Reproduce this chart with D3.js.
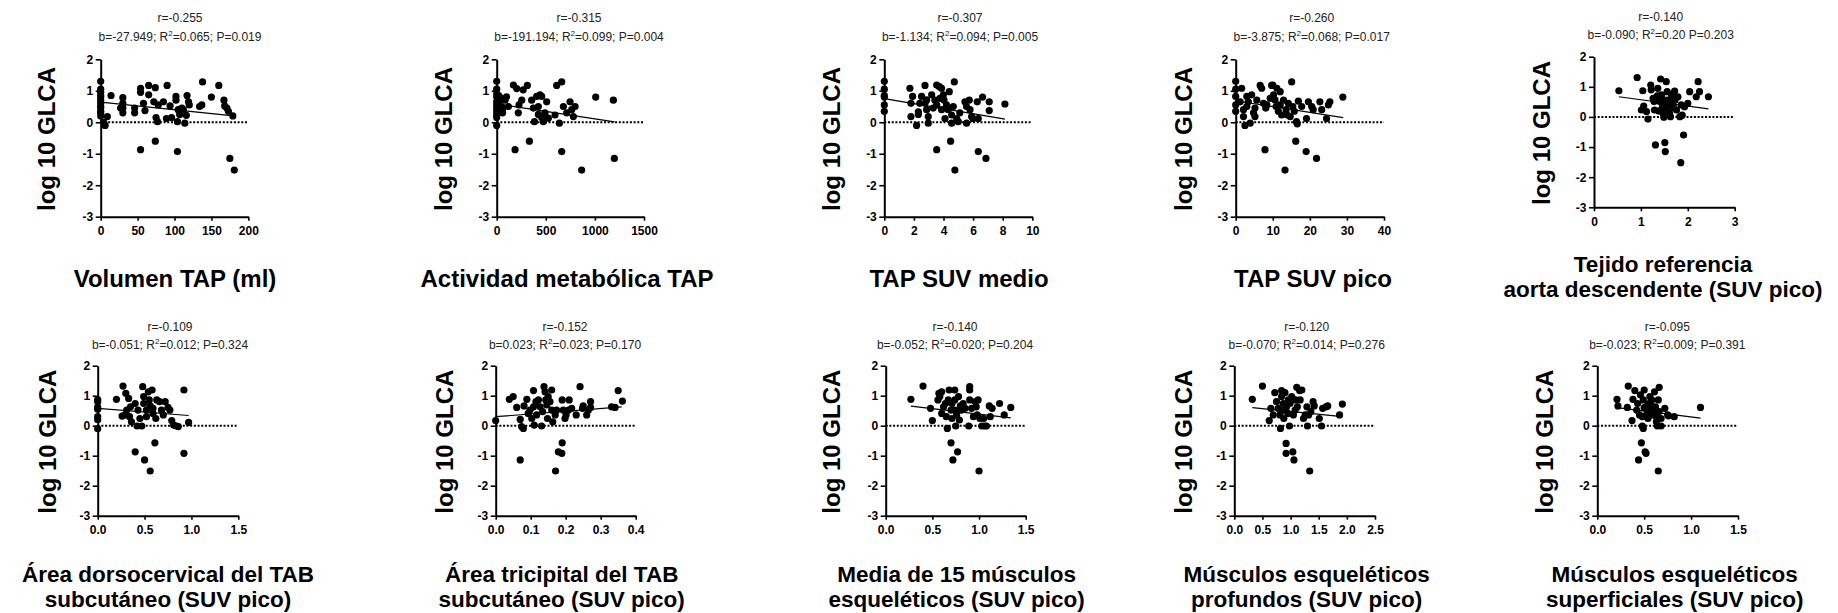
<!DOCTYPE html>
<html>
<head>
<meta charset="utf-8">
<script src="https://cdn.jsdelivr.net/npm/d3@7/dist/d3.min.js"></script>
<style>
  html, body { margin: 0; padding: 0; background: #fff; }
  svg { display: block; }
  text { font-family: "Liberation Sans", Arial, Helvetica, sans-serif; }
</style>
</head>
<body>
<svg id="chart" width="1838" height="613"></svg>
<script>
// ---------------- DATA ----------------
const yLabel = "log 10 GLCA";
const yTickValues = [2, 1, 0, -1, -2, -3];

const xTitles = [
  ["Volumen TAP (ml)"],
  ["Actividad metabólica TAP"],
  ["TAP SUV medio"],
  ["TAP SUV pico"],
  ["Tejido referencia", "aorta descendente (SUV pico)"],
  ["Área dorsocervical del TAB", "subcutáneo (SUV pico)"],
  ["Área tricipital del TAB", "subcutáneo (SUV pico)"],
  ["Media de 15 músculos", "esqueléticos (SUV pico)"],
  ["Músculos esqueléticos", "profundos (SUV pico)"],
  ["Músculos esqueléticos", "superficiales (SUV pico)"]
];

const statR = ["r=-0.255", "r=-0.315", "r=-0.307", "r=-0.260", "r=-0.140",
               "r=-0.109", "r=-0.152", "r=-0.140", "r=-0.120", "r=-0.095"];
const statBefore = ["b=-27.949; R", "b=-191.194; R", "b=-1.134; R", "b=-3.875; R", "b=-0.090; R",
                    "b=-0.051; R", "b=0.023; R", "b=-0.052; R", "b=-0.070; R", "b=-0.023; R"];
const statAfter = ["=0.065; P=0.019", "=0.099; P=0.004", "=0.094; P=0.005", "=0.068; P=0.017", "=0.20 P=0.203",
                   "=0.012; P=0.324", "=0.023; P=0.170", "=0.020; P=0.204", "=0.014; P=0.276", "=0.009; P=0.391"];

const xTickValues = [
  [0, 50, 100, 150, 200],
  [0, 500, 1000, 1500],
  [0, 2, 4, 6, 8, 10],
  [0, 10, 20, 30, 40],
  [0, 1, 2, 3],
  [0, 0.5, 1.0, 1.5],
  [0, 0.1, 0.2, 0.3, 0.4],
  [0, 0.5, 1.0, 1.5],
  [0, 0.5, 1.0, 1.5, 2.0, 2.5],
  [0, 0.5, 1.0, 1.5]
];
const xTickDecimals = [0, 0, 0, 0, 0, 1, 1, 1, 1, 1];

// Panel 1: Volumen TAP (ml)
const volX = [0,0,0,0,0,0,0,0,0,0,0,0, 4,6,9,14, 27,30,30,30,30, 46,46, 54,54,54, 58,60, 65,65, 72,74,74,75,77,78, 85, 89,90, 94,96, 102,102,104,104,105,107,110,112,114, 116,117,119,120, 134,137,138, 150, 160, 167,168,171,173, 175,179,181];
const volY = [1.3,1.05,0.95,0.85,0.8,0.7,0.6,0.5,0.45,0.35,0.3,0.2, 0.0,-0.1,0.18,0.85, 0.45,0.78,0.6,0.45,0.3, 0.45,0.3, 1.08,0.95,-0.87, 0.6,0.37, 1.17,0.87, 0.65,1.1,-0.6,0.15,0.02,0.55, 0.65, 0.12,1.17, 0.52,0.15, 0.82,0.7,0.02,-0.93,0.4,0.25,0.45,0.4,-0.03, 0.22,0.85,0.65,0.55, 0.5,0.55,1.28, 0.8, 1.17, 0.7,0.52,0.45,0.35, -1.15,0.2,-1.52];

// Panel 2: Actividad metabólica TAP
const actX = [0,0,0,0,0,0,0,0,0,0,0, 20,30,40,50,60,60, 85,100,119, 170,187,204,220,227, 255,270,312,333, 356,373,384, 407,424,424,441,458,458,475,492,509,526, 594,611,638,662,662, 679,713,747,764,781,798, 865, 1008, 1188,1198];
const actY = [1.3,1.05,0.9,0.8,0.65,0.55,0.45,0.35,0.25,0.15,-0.1, 0.85,0.8,0.7,0.5,0.4,0.3, 0.7,0.81,0.5, 1.18,-0.87,1.07,0.3,0.55, 0.7,1.03,1.17,-0.6, 0.7,0.45,0.02, 0.82,0.5,0.25,0.87,0.82,0.15,0.02,0.3,0.65,0.13, 0.23,1.17,-0.03,1.28,-0.93, 0.5,0.3,0.65,0.4,0.18,0.5, -1.52, 0.8, 0.7,-1.15];

// Panel 3: TAP SUV medio
const medX = [0,0,0,0,0,0, 1.73,1.8,1.8,1.91, 2.18,2.3,2.3,2.4,2.52, 2.75,2.75,2.86,2.97,2.97,2.86, 3.2,3.3,3.42,3.54,3.54,3.54, 3.72,3.76,3.87,3.87,3.99,4.03,4.1,4.2,4.32,4.39, 4.48,4.55,4.55,4.66,4.73,4.77,4.89,5.0,5.1, 5.45,5.56,5.56,5.74,5.79,5.9,6.0, 6.28,6.35,6.35,6.64,6.87,7.09,7.09, 8.15];
const medY = [1.3,1.05,0.85,0.8,0.55,0.35, 1.08,0.6,0.18,0.82, -0.1,0.33,0.25,0.6,0.82, 1.17,0.6,0.71,0.18,-0.03,0.4, 0.87,0.45,0.7,-0.87,1.18,0.55, 1.13,0.76,1.08,0.4,0.87,0.71,0.12,0.55,0.4,0.97, -0.6,0.23,-0.03,0.5,1.28,-1.52,0.12,0.02,0.3, 0.65,0.5,-0.03,0.7,0.4,0.18,0.12, 0.65,-0.93,0.12,0.8,-1.15,0.65,0.37, 0.58];

// Panel 4: TAP SUV pico
const picX = [0,0,0,0,0, 1.2,1.6,2.1,2.1,2.5,3,3,3.4,3.9,4.3,4.8,5.2,5.2,5.7, 6.6,7,7.5,7.9,8.1,8.4, 9.3,9.7,10,10.2,10.6,10.9,11.1, 11.5,12,12,12.4,12.9,13.3,13.6,13.9,14.2,14.7,15.1,15.4,15.8, 16.2,16.4,16.6,16.9,17.8, 19.1,19,19.6,20.5,20.9,21.8,22.7,23.2,24.5,25,25.4,28.9];
const picY = [1.3,1.05,0.82,0.55,0.35, 0.65,1.08,0.4,0.18,-0.1,0.82,0.5,0.65,-0.03,0.87,0.3,0.45,0.18,0.7, 1.17,1.08,0.6,-0.87,0.45,0.55, 0.76,1.17,1.18,0.87,0.71,0.5,1.08, 0.35,0.97,0.55,0.23,0.7,-1.52,0.4,0.23,0.6,0.18,1.28,0.5,0.35, -0.6,0.02,-0.05,0.67,0.5, 0.12,-0.93,0.65,0.5,0.4,-1.15,0.65,0.4,0.12,0.55,0.65,0.8];

// Panel 5: Tejido referencia aorta descendente
const aorX = [0.53,0.92,1.04,1.01,1.06,1.12,1.15, 1.21,1.22,1.26,1.28,1.29,1.31, 1.36,1.4,1.42,1.44,1.46,1.47,1.49, 1.51,1.52,1.54,1.56,1.56,1.58,1.61,1.63,1.66,1.68,1.72,1.73,1.76, 1.79,1.83,1.85,1.86,1.88,1.91,1.93, 2.0,2.04,2.22,2.25,2.18,2.44, 1.45,1.5,1.6,1.7,1.35,1.55,1.65,1.38];
const aorY = [0.87,1.31,0.87,0.23,0.36,0.18,-0.07, 1.06,0.9,0.62,0.51,0.23,-0.93, 0.95,0.51,1.26,0.73,0.34,0.12,-0.01, -0.85,-1.15,1.17,0.84,0.56,0.34,0.12,0.01,0.62,0.4,0.86,0.56,0.23, 0.67,0.01,-1.52,0.4,0.06,-0.6,0.34, 0.45,0.84,1.17,0.84,0.67,0.67, 0.6,0.45,0.5,0.3,0.7,0.3,0.75,0.2];

// Panel 6: Área dorsocervical
const dorX = [0,0,0,0,0,0,0, 0.2,0.26,0.27,0.29,0.3,0.31,0.33,0.34,0.35,0.36, 0.4,0.42,0.4,0.43,0.45,0.47, 0.48,0.49,0.49,0.5,0.52,0.52, 0.54,0.55,0.56,0.56,0.58,0.59,0.59,0.61,0.62,0.63, 0.66,0.68,0.7,0.72,0.75,0.77, 0.79,0.81,0.84,0.86,0.92,0.92,0.97];
const dorY = [0.87,0.8,0.62,0.55,0.3,0.2,-0.1, 0.88,0.32,1.32,0.36,1.08,0.52,0.91,0.3,0.63,0.13, -0.87,-0.01,0.74,0.52,0.24,-0.01, 1.3,0.97,0.74,-1.14,0.52,0.3, 1.13,0.86,0.66,-1.51,1.19,0.41,0.58,-0.57,0.24,0.86, 0.8,0.52,0.36,0.8,0.61,0.52, 0.17,0.02,-0.01,-0.03,1.19,-0.92,0.11];

// Panel 7: Área tricipital
const triX = [0, 0.039,0.05,0.06,0.07,0.07,0.074,0.079,0.081,0.089, 0.093,0.098,0.103,0.108,0.108,0.11,0.115,0.117, 0.122,0.127,0.131,0.134,0.138,0.141,0.143,0.146,0.148,0.15,0.155,0.16,0.16,0.163, 0.17,0.171,0.174,0.179,0.189,0.19,0.19,0.193,0.198,0.201, 0.208,0.21,0.217,0.23,0.241,0.248,0.25,0.26,0.265,0.271,0.271, 0.331,0.341,0.35,0.362];
const triY = [0.17, 0.88,0.97,0.61,0.21,-1.14,-0.03,-0.09,0.66,0.88, 0.41,0.52,0.24,1.17,0.63,0.02,0.8,0.36, 0.86,0.63,-0.01,0.47,1.3,1.13,0.86,0.69,0.24,0.97,0.8,1.19,0.52,0.13, 0.36,-1.51,0.52,-0.87,-0.92,-0.57,0.86,0.52,0.24,0.36, 0.52,0.86,0.58,0.36,1.3,0.58,0.66,0.36,0.52,0.8,0.61, 0.63,0.61,1.17,0.82];

// Panel 8: Media de 15 músculos
const musX = [0.27,0.4,0.48,0.5, 0.56,0.57,0.58,0.6,0.6,0.62,0.64,0.65,0.66, 0.67,0.68,0.7,0.7,0.71,0.71,0.72,0.74,0.74,0.74, 0.75,0.76,0.77,0.78,0.79,0.8,0.81, 0.83,0.85,0.89,0.9,0.9,0.9,0.92,0.94,0.96, 0.97,0.98,0.99,1.0,1.01,1.03,1.05,1.06,1.08, 1.11,1.12,1.14,1.22,1.27,1.34];
const musY = [0.88,1.32,0.58,0.17, 0.86,1.08,0.97,1.13,0.41,0.63,0.74,0.3,-0.09, 0.86,1.19,0.52,-0.57,0.74,0.24,-1.14,0.86,1.19,0.52, -0.01,0.36,-0.87,0.97,0.19,0.66,0.52, 0.74,0.58,-0.01,1.19,1.3,0.86,0.58,0.3,0.8, 0.63,0.36,0.86,-1.51,0.24,-0.01,0.24,-0.01,-0.01, 0.66,0.3,0.58,0.74,0.36,0.61];

// Panel 9: Músculos profundos
const proX = [0.32,0.5,0.62,0.65,0.69, 0.72,0.75,0.78,0.81,0.82,0.84,0.84,0.87,0.87,0.88, 0.9,0.92,0.92,0.93,0.95,0.96,0.98,0.99, 1.02,1.04,1.05,1.06,1.08,1.09,1.11,1.12, 1.16,1.17,1.2,1.23,1.26,1.29,1.3,1.32,1.34,1.36, 1.4,1.42,1.51,1.55,1.57,1.63,1.66, 1.87,1.92];
const proY = [0.88,1.32,0.17,0.58,0.36, 1.1,0.8,0.58,0.36,-0.09,1.17,0.97,0.74,0.52,0.24, 1.1,-0.59,-0.92,0.63,0.41,0.86,-0.01,0.74, 0.97,-0.87,0.36,-1.14,0.52,0.86,1.28,0.63, 1.17,0.86,1.19,0.24,0.36,0.63,-0.01,0.36,-1.51,0.47, 0.8,0.66,0.24,-0.01,0.58,0.63,0.66, 0.36,0.72];

// Panel 10: Músculos superficiales
const supX = [0.21,0.22,0.33,0.32,0.37,0.38, 0.4,0.42,0.43,0.45,0.44,0.46,0.47,0.48,0.49,0.49, 0.5,0.51,0.52,0.52,0.53,0.54,0.55,0.56,0.57, 0.58,0.59,0.61,0.62,0.63,0.64,0.65,0.65,0.66,0.66,0.68,0.68, 0.72,0.75,0.82,1.1, 0.55,0.6,0.5,0.57,0.63,0.48,0.76];
const supY = [0.88,0.66,1.32,0.61,0.17,0.88, 1.17,0.52,0.74,0.36,-1.14,1.03,-0.57,-0.01,-0.09,0.86, 1.19,-0.87,-0.92,0.63,0.41,0.24,0.74,0.97,0.52, 0.86,0.36,1.13,0.63,0.13,-0.01,0.86,-1.51,1.28,0.47,0.24,-0.01, 0.58,0.36,0.3,0.61, 0.5,0.45,0.6,0.7,0.3,0.3,0.33];

// Fitted regression lines: [xStart, yStart, xEnd, yEnd]
const fitLines = [
  [0, 0.64, 180, 0.2],
  [0, 0.58, 1200, 0.01],
  [0, 0.75, 8.15, 0.1],
  [0, 0.68, 29, 0.15],
  [0.53, 0.67, 2.44, 0.27],
  [0, 0.58, 0.97, 0.34],
  [0, 0.3, 0.36, 0.63],
  [0.27, 0.65, 1.34, 0.26],
  [0.32, 0.6, 1.92, 0.3],
  [0.21, 0.6, 1.1, 0.25]
];

const seriesX = [volX, actX, medX, picX, aorX, dorX, triX, musX, proX, supX];
const seriesY = [volY, actY, medY, picY, aorY, dorY, triY, musY, proY, supY];

// ---------------- LAYOUT ----------------
const layout = [
  {l:100.7, r:248.3, t:59.3, b:216.7, sx:180,    sy:[22.3, 41],   tx:175,    ty:286.7, yx:55},
  {l:496.7, r:644,   t:59.3, b:216.7, sx:579,    sy:[22.3, 41],   tx:567,    ty:286.7, yx:451.7},
  {l:884.3, r:1032.3,t:59.3, b:216.7, sx:960,    sy:[22.3, 41],   tx:959,    ty:286.7, yx:840},
  {l:1235.7,r:1384,  t:59.3, b:216.7, sx:1311.7, sy:[22.3, 41],   tx:1313,   ty:286.7, yx:1191.7},
  {l:1594,  r:1734.7,t:56.7, b:207.3, sx:1660.7, sy:[20.7, 39],   tx:1663,   ty:272,   yx:1549.7},
  {l:97.7,  r:238.3, t:365.7,b:515.7, sx:170,    sy:[330.7, 349], tx:168,    ty:582,   yx:56},
  {l:495.7, r:635.7, t:365.7,b:515.7, sx:565,    sy:[330.7, 349], tx:561.7,  ty:582,   yx:453.3},
  {l:885.7, r:1025.7,t:365.7,b:515.7, sx:955,    sy:[330.7, 349], tx:956.7,  ty:582,   yx:840},
  {l:1234.3,r:1375,  t:365.7,b:515.7, sx:1306.7, sy:[330.7, 349], tx:1306.7, ty:582,   yx:1191.7},
  {l:1597.3,r:1738,  t:365.7,b:515.7, sx:1667.3, sy:[330.7, 349], tx:1674.7, ty:582,   yx:1553}
];
const titleLineGap = 25.4;

// ---------------- DRAW ----------------
const svg = d3.select("#chart");
svg.append("rect").attr("width", 1838).attr("height", 613).attr("fill", "#fff");

layout.forEach((L, i) => {
  const xt = xTickValues[i];
  const x = d3.scaleLinear().domain([xt[0], xt[xt.length - 1]]).range([L.l, L.r]);
  const y = d3.scaleLinear().domain([-3, 2]).range([L.b, L.t]);
  const g = svg.append("g");

  // dotted zero line
  g.append("line")
    .attr("x1", x(xt[0])).attr("x2", x(xt[xt.length - 1]))
    .attr("y1", y(0)).attr("y2", y(0))
    .attr("stroke", "#000").attr("stroke-width", 2)
    .attr("stroke-dasharray", "2,1.7");

  // points
  const pts = seriesX[i].map((v, k) => [v, seriesY[i][k]]);
  g.selectAll("circle").data(pts).enter().append("circle")
    .attr("cx", d => x(d[0])).attr("cy", d => y(d[1]))
    .attr("r", 3.6).attr("fill", "#000");

  // regression line
  const f = fitLines[i];
  g.append("line")
    .attr("x1", x(f[0])).attr("y1", y(f[1]))
    .attr("x2", x(f[2])).attr("y2", y(f[3]))
    .attr("stroke", "#000").attr("stroke-width", 1.2);

  // axes
  const fmt = d3.format(xTickDecimals[i] ? ".1f" : "d");
  const xAxis = g.append("g").attr("transform", `translate(0,${L.b})`)
    .call(d3.axisBottom(x).tickValues(xt).tickFormat(fmt).tickSize(4).tickSizeOuter(0).tickPadding(6));
  const yAxis = g.append("g").attr("transform", `translate(${L.l},0)`)
    .call(d3.axisLeft(y).tickValues(yTickValues).tickFormat(d3.format("d")).tickSize(5).tickSizeOuter(0).tickPadding(2.5));
  [xAxis, yAxis].forEach(a => {
    a.select(".domain").attr("stroke", "#000").attr("stroke-width", 2);
    a.selectAll(".tick line").attr("stroke", "#000").attr("stroke-width", 1.6);
    a.selectAll(".tick text")
      .attr("fill", "#000")
      .style("font-family", '"Liberation Sans", Arial, Helvetica, sans-serif')
      .style("font-size", "12px").style("font-weight", "bold");
  });
  yAxis.selectAll(".tick text").text(d => d < 0 ? "-" + Math.abs(d) : d);

  // stats text
  g.append("text").attr("x", L.sx).attr("y", L.sy[0])
    .attr("text-anchor", "middle").attr("fill", "#222")
    .style("font-size", "12px").text(statR[i]);
  const t2 = g.append("text").attr("x", L.sx).attr("y", L.sy[1])
    .attr("text-anchor", "middle").attr("fill", "#222").style("font-size", "12px");
  t2.append("tspan").text(statBefore[i]);
  t2.append("tspan").attr("dy", -5).style("font-size", "8px").text("2");
  t2.append("tspan").attr("dy", 5).text(statAfter[i]);

  // y title
  g.append("text")
    .attr("transform", `translate(${L.yx},${(L.t + L.b) / 2 + 1}) rotate(-90)`)
    .attr("text-anchor", "middle").attr("fill", "#000")
    .style("font-size", "24px").style("font-weight", "bold")
    .text(yLabel);

  // x title (one text element, one tspan per line)
  const twoLine = xTitles[i].length > 1;
  const tt = g.append("text").attr("x", L.tx).attr("y", L.ty)
    .attr("text-anchor", "middle").attr("fill", "#000")
    .style("font-size", twoLine ? "22.5px" : "24px").style("font-weight", "bold");
  xTitles[i].forEach((line, j) => {
    tt.append("tspan").attr("x", L.tx).attr("dy", j === 0 ? 0 : titleLineGap).text(line);
  });
});
</script>
</body>
</html>
